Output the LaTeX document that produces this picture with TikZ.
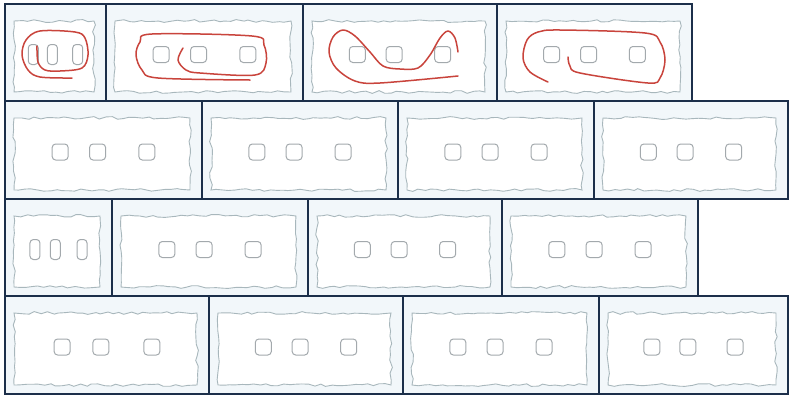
\documentclass[tikz,border=0pt]{standalone}
\usetikzlibrary{decorations.pathmorphing}
\definecolor{panelbg}{HTML}{F2F7FA}
\definecolor{navy}{HTML}{1C2F4A}
\definecolor{wavyc}{HTML}{A8B7BC}
\definecolor{holec}{HTML}{A3A9AD}
\definecolor{loopc}{HTML}{C9443C}
\tikzset{
  panelbox/.style={fill=panelbg, draw=navy, line width=2.6pt},
  wavybox/.style={draw=wavyc, fill=white, line width=0.9pt, decorate,
    decoration={random steps, segment length=6pt, amplitude=1.4pt}},
  holebox/.style={draw=holec, line width=1pt, rounded corners=3.5pt},
  loopline/.style={draw=loopc, line width=1.5pt, line cap=round, line join=round},
}
% x1 y1 x2 y2 half-width half-height of holes
\newcommand\mypanel[6]{%
  \draw[panelbox] (#1,#2) rectangle (#3,#4);
  \draw[wavybox] (#1+9,#2+17) rectangle (#3-12,#4-9);
  \foreach \f in {0.28,0.47,0.72}{
    \draw[holebox] ({#1+\f*(#3-#1)-#5},{(#2+#4)/2+2-#6}) rectangle ({#1+\f*(#3-#1)+#5},{(#2+#4)/2+2+#6});
  }
}
\begin{document}
\begin{tikzpicture}[x=1pt,y=-1pt]
\useasboundingbox (0,0) rectangle (790,397);
\fill[white] (0,0) rectangle (790,397);
\pgfmathsetseed{7}
% row 1
\mypanel{5}{4}{106}{101}{5}{10}
\mypanel{106}{4}{303}{101}{8}{8}
\mypanel{303}{4}{497}{101}{8}{8}
\mypanel{497}{4}{692}{101}{8}{8}
% row 2
\mypanel{5}{101}{202}{199}{8}{8}
\mypanel{202}{101}{398}{199}{8}{8}
\mypanel{398}{101}{594}{199}{8}{8}
\mypanel{594}{101}{788}{199}{8}{8}
% row 3
\mypanel{5}{199}{112}{296}{5}{10}
\mypanel{112}{199}{308}{296}{8}{8}
\mypanel{308}{199}{502}{296}{8}{8}
\mypanel{502}{199}{698}{296}{8}{8}
% row 4
\mypanel{5}{296}{209}{394}{8}{8}
\mypanel{209}{296}{403}{394}{8}{8}
\mypanel{403}{296}{599}{394}{8}{8}
\mypanel{599}{296}{788}{394}{8}{8}
% red loops
\draw[loopline] plot[smooth, tension=0.55] coordinates {(37,46) (38,62) (45,70) (60,71) (82,68) (88,55) (85,38) (75,32) (40,31) (26,40) (22,55) (28,70) (40,77) (72,78)};
\draw[loopline] plot[smooth, tension=0.55] coordinates {(183,48) (178,60) (186,70) (200,73) (255,75) (266,63) (264,45) (252,36) (152,34) (140,42) (136,55) (142,70) (158,78) (250,80)};
\draw[loopline] plot[smooth, tension=0.55] coordinates {(458,52) (455,38) (448,31) (440,38) (430,55) (418,68) (400,69) (383,66) (370,52) (355,36) (343,30) (333,37) (329,52) (336,68) (355,81) (380,83) (458,76)};
\draw[loopline] plot[smooth, tension=0.55] coordinates {(548,82) (530,72) (523,58) (527,40) (538,32) (560,30) (645,33) (660,42) (665,60) (660,78) (648,83) (580,73) (570,66) (568,57)};
\end{tikzpicture}
\end{document}
